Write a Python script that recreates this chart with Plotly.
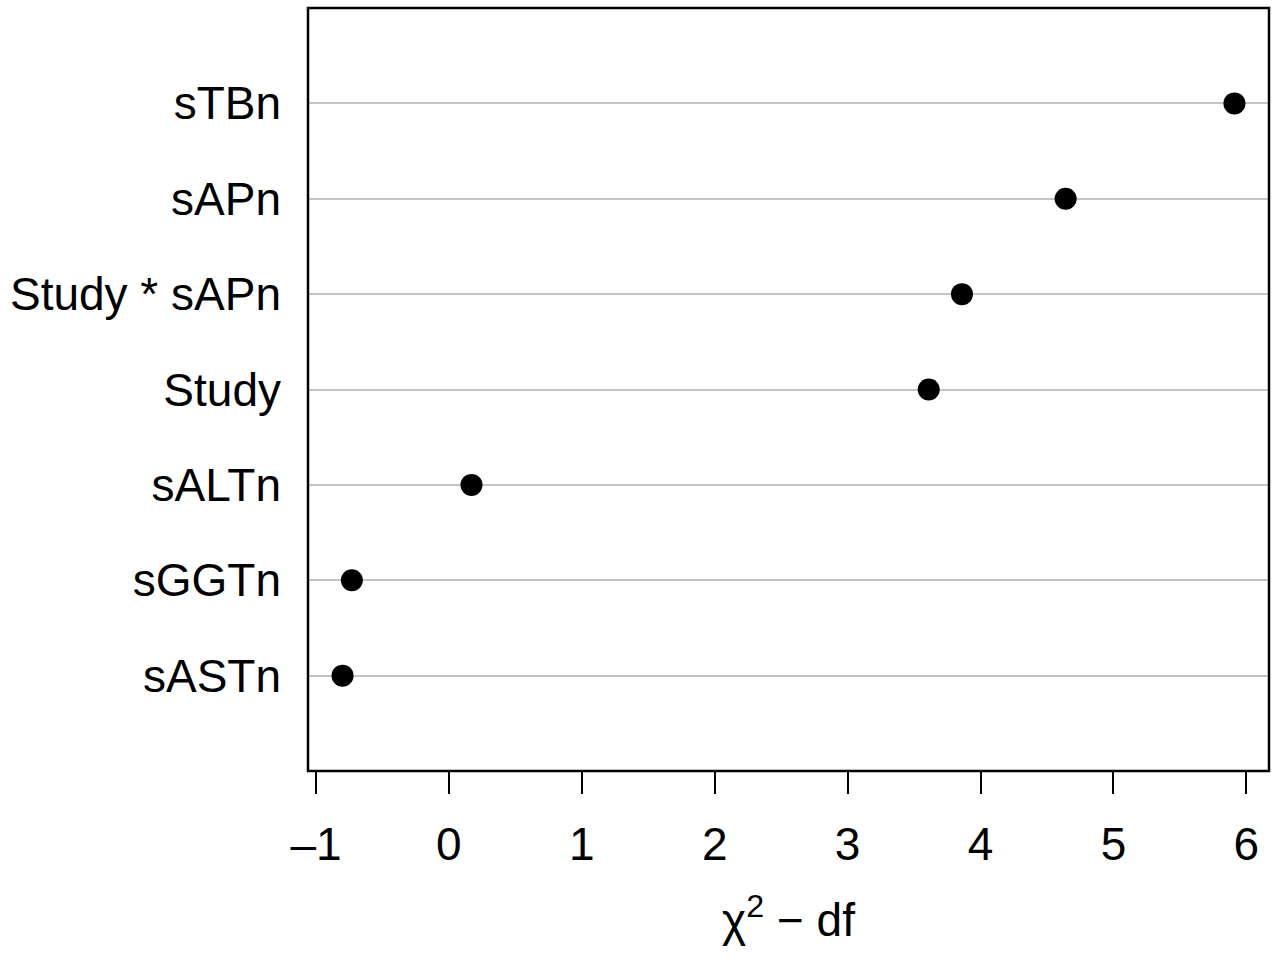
import plotly.graph_objects as go

categories = ["sASTn", "sGGTn", "sALTn", "Study", "Study * sAPn", "sAPn", "sTBn"]
values = [-0.80, -0.73, 0.17, 3.61, 3.86, 4.64, 5.91]
x_ticks = [-1, 0, 1, 2, 3, 4, 5, 6]
x_tick_text = ["\u20131", "0", "1", "2", "3", "4", "5", "6"]

positions = list(range(1, len(categories) + 1))

fig = go.Figure()
fig.add_trace(go.Scatter(
    x=values, y=positions, mode="markers",
    marker=dict(color="black", size=22, line=dict(width=0)),
    showlegend=False, hoverinfo="x+text", text=categories,
))

font = dict(family="Liberation Sans, Arial, sans-serif", size=46, color="black")

fig.update_layout(
    width=1284, height=958,
    margin=dict(l=308, r=15, t=8, b=187),
    paper_bgcolor="white", plot_bgcolor="white",
    font=font,
    xaxis=dict(
        range=[-1.06, 6.17], tickvals=x_ticks, ticktext=x_tick_text,
        ticks="outside", ticklen=22, tickwidth=2, tickcolor="black",
        showgrid=False, zeroline=False, showline=False,
        tickfont=font, ticklabelstandoff=11,
        title=dict(text="\u03c7<sup>2</sup> \u2212 df", font=font, standoff=34),
    ),
    yaxis=dict(
        range=[0, 8], tickvals=positions, ticktext=categories,
        ticks="", showgrid=True, gridcolor="#c4c4c4", gridwidth=2,
        zeroline=False, showline=False, tickfont=font,
        ticklabelstandoff=26,
    ),
    shapes=[dict(type="rect", xref="paper", yref="paper", x0=0, x1=1, y0=0, y1=1,
                 line=dict(color="black", width=2.5), fillcolor="rgba(0,0,0,0)")],
)

fig.write_html("out.html")
